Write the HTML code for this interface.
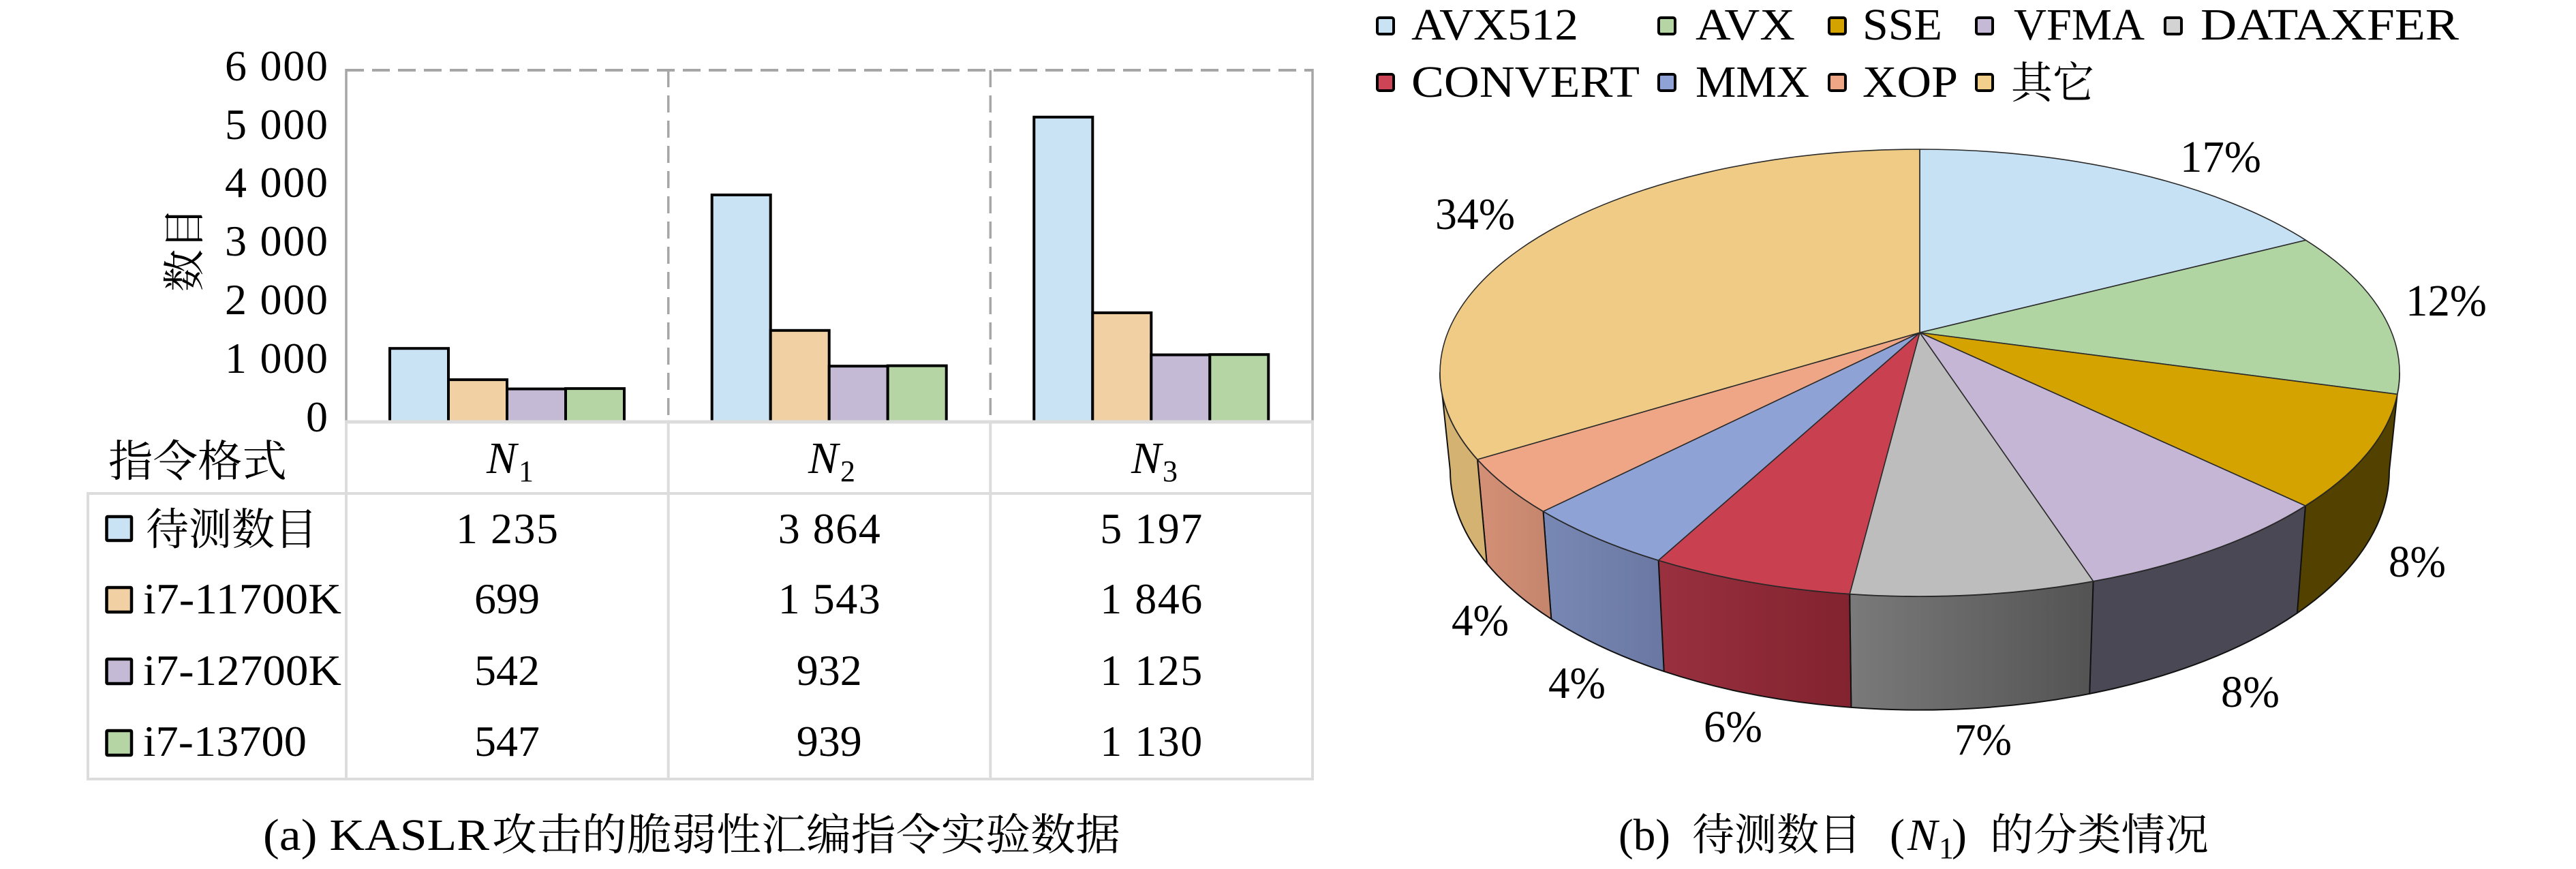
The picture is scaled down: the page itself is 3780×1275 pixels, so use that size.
<!DOCTYPE html>
<html><head><meta charset="utf-8">
<style>
html,body{margin:0;padding:0;background:#fff;}
svg{display:block;}
text{font-family:"Liberation Serif","Noto Serif CJK SC",serif;fill:#000;}
</style></head><body>
<svg xmlns="http://www.w3.org/2000/svg" width="3780" height="1275" viewBox="0 0 3780 1275" font-family="'Liberation Serif','Noto Serif CJK SC',serif">
<defs>
<linearGradient id="gData" x1="0" y1="0" x2="1" y2="0"><stop offset="0" stop-color="#7a7a7a"/><stop offset="1" stop-color="#535353"/></linearGradient>
<linearGradient id="gConv" x1="0" y1="0" x2="1" y2="0"><stop offset="0" stop-color="#99303f"/><stop offset="1" stop-color="#82232f"/></linearGradient>
<linearGradient id="gMmx" x1="0" y1="0" x2="1" y2="0"><stop offset="0" stop-color="#7888b4"/><stop offset="1" stop-color="#6a77a2"/></linearGradient>
<linearGradient id="gXop" x1="0" y1="0" x2="1" y2="0"><stop offset="0" stop-color="#d49077"/><stop offset="1" stop-color="#c4856d"/></linearGradient>
</defs>
<rect width="3780" height="1275" fill="#fff"/>

<!-- ========== LEFT: bar chart ========== -->
<g stroke="#000" stroke-width="4">
<rect x="572" y="511.2" width="86" height="108" fill="#c9e3f5"/>
<rect x="658" y="557.1" width="86" height="62" fill="#f1d1a3"/>
<rect x="744" y="570.6" width="86" height="48.4" fill="#c4bad6"/>
<rect x="830" y="570.1" width="86" height="48.9" fill="#b6d5a4"/>

<rect x="1044.7" y="286" width="86" height="333" fill="#c9e3f5"/>
<rect x="1130.7" y="484.8" width="86" height="134.2" fill="#f1d1a3"/>
<rect x="1216.7" y="537.2" width="86" height="81.8" fill="#c4bad6"/>
<rect x="1302.7" y="536.6" width="86" height="82.4" fill="#b6d5a4"/>

<rect x="1517.3" y="171.8" width="86" height="447.2" fill="#c9e3f5"/>
<rect x="1603.3" y="458.9" width="86" height="160.1" fill="#f1d1a3"/>
<rect x="1689.3" y="520.6" width="86" height="98.4" fill="#c4bad6"/>
<rect x="1775.3" y="520.2" width="86" height="98.8" fill="#b6d5a4"/>
</g>

<line x1="508" y1="101" x2="508" y2="619" stroke="#a6a6a6" stroke-width="3.5"/>
<line x1="1926" y1="101" x2="1926" y2="619" stroke="#a6a6a6" stroke-width="3.5"/>
<line x1="508" y1="103" x2="1926" y2="103" stroke="#a6a6a6" stroke-width="4" stroke-dasharray="26 12"/>
<line x1="980.7" y1="103" x2="980.7" y2="617" stroke="#a6a6a6" stroke-width="3.5" stroke-dasharray="25 12"/>
<line x1="1453.3" y1="103" x2="1453.3" y2="617" stroke="#a6a6a6" stroke-width="3.5" stroke-dasharray="25 12"/>

<g stroke="#dcdcdc" stroke-width="4" fill="none">
<line x1="506" y1="619" x2="1928" y2="619" stroke-width="5"/>
<line x1="508" y1="619" x2="508" y2="1145"/>
<line x1="980.7" y1="619" x2="980.7" y2="1145"/>
<line x1="1453.3" y1="619" x2="1453.3" y2="1145"/>
<line x1="1926" y1="619" x2="1926" y2="1145"/>
<line x1="127" y1="724" x2="1928" y2="724"/>
<line x1="127" y1="1143" x2="1928" y2="1143"/>
<line x1="129" y1="722" x2="129" y2="1145"/>
</g>

<g font-size="64" text-anchor="end">
<text x="481" y="118" textLength="151">6 000</text>
<text x="481" y="204" textLength="151">5 000</text>
<text x="481" y="289" textLength="151">4 000</text>
<text x="481" y="375" textLength="151">3 000</text>
<text x="481" y="461" textLength="151">2 000</text>
<text x="481" y="547" textLength="151">1 000</text>
<text x="481" y="633">0</text>
</g>
<text transform="translate(292,366) rotate(-90)" text-anchor="middle" font-size="62">数目</text>

<text x="159" y="699" font-size="64" textLength="262" lengthAdjust="spacingAndGlyphs">指令格式</text>
<text x="714" y="694" font-size="66" font-style="italic">N</text>
<text x="761" y="706" font-size="44">1</text>
<text x="1186" y="694" font-size="66" font-style="italic">N</text>
<text x="1233" y="706" font-size="44">2</text>
<text x="1660" y="694" font-size="66" font-style="italic">N</text>
<text x="1706" y="706" font-size="44">3</text>

<g stroke="#000" stroke-width="4.5">
<rect x="156.5" y="758" width="36.5" height="35" fill="#c9e3f5" rx="1.5"/>
<rect x="156.5" y="862" width="36.5" height="36" fill="#f1d1a3" rx="1.5"/>
<rect x="156.5" y="967" width="36.5" height="36" fill="#c4bad6" rx="1.5"/>
<rect x="156.5" y="1072" width="36.5" height="36" fill="#b6d5a4" rx="1.5"/>
</g>
<g font-size="64">
<text x="214" y="799" textLength="252" lengthAdjust="spacingAndGlyphs">待测数目</text>
<text x="210" y="900" textLength="291" lengthAdjust="spacingAndGlyphs">i7-11700K</text>
<text x="210" y="1005" textLength="291" lengthAdjust="spacingAndGlyphs">i7-12700K</text>
<text x="210" y="1109" textLength="240" lengthAdjust="spacingAndGlyphs">i7-13700</text>
</g>
<g font-size="64" text-anchor="middle">
<text x="744" y="797" textLength="150">1 235</text>
<text x="744" y="900">699</text>
<text x="744" y="1005">542</text>
<text x="744" y="1109">547</text>
<text x="1216.7" y="797" textLength="150">3 864</text>
<text x="1216.7" y="900" textLength="150">1 543</text>
<text x="1216.7" y="1005">932</text>
<text x="1216.7" y="1109">939</text>
<text x="1689.3" y="797" textLength="150">5 197</text>
<text x="1689.3" y="900" textLength="150">1 846</text>
<text x="1689.3" y="1005" textLength="150">1 125</text>
<text x="1689.3" y="1109" textLength="150">1 130</text>
</g>

<text x="386" y="1247" font-size="66" textLength="332" lengthAdjust="spacingAndGlyphs">(a) KASLR</text>
<text x="722" y="1247" font-size="64" textLength="922" lengthAdjust="spacingAndGlyphs">攻击的脆弱性汇编指令实验数据</text>

<!-- ========== RIGHT: pie chart ========== -->
<g stroke="#000" stroke-width="4">
<rect x="2021" y="26" width="24" height="24" rx="3" fill="#c9e3f5"/>
<rect x="2434" y="26" width="24" height="24" rx="3" fill="#b6d5a4"/>
<rect x="2684" y="26" width="24" height="24" rx="3" fill="#d4a300"/>
<rect x="2900" y="26" width="24" height="24" rx="3" fill="#c4bad6"/>
<rect x="3177" y="26" width="24" height="24" rx="3" fill="#d3d3d3"/>
<rect x="2021" y="109" width="24" height="24" rx="3" fill="#cc4455"/>
<rect x="2434" y="109" width="24" height="24" rx="3" fill="#8fa2d6"/>
<rect x="2684" y="109" width="24" height="24" rx="3" fill="#eea686"/>
<rect x="2900" y="109" width="24" height="24" rx="3" fill="#f2cf8a"/>
</g>
<g font-size="66">
<text x="2071" y="58" textLength="245" lengthAdjust="spacingAndGlyphs">AVX512</text>
<text x="2488" y="58" textLength="146" lengthAdjust="spacingAndGlyphs">AVX</text>
<text x="2733" y="58" textLength="117" lengthAdjust="spacingAndGlyphs">SSE</text>
<text x="2955" y="58" textLength="192" lengthAdjust="spacingAndGlyphs">VFMA</text>
<text x="3229" y="58" textLength="379" lengthAdjust="spacingAndGlyphs">DATAXFER</text>
<text x="2071" y="142" textLength="335" lengthAdjust="spacingAndGlyphs">CONVERT</text>
<text x="2488" y="142" textLength="167" lengthAdjust="spacingAndGlyphs">MMX</text>
<text x="2733" y="142" textLength="140" lengthAdjust="spacingAndGlyphs">XOP</text>
<text x="2951" y="144" font-size="64" textLength="122" lengthAdjust="spacingAndGlyphs">其它</text>
</g>

<g stroke="#111" stroke-width="2" stroke-linejoin="round">
<path d="M3521,547 A704,328 0 0 1 3382.9,742.1 L3370.9,899.5 A689,351 0 0 0 3506,690.7 Z" fill="#534100"/>
<path d="M3382.9,742.1 A704,328 0 0 1 3071.6,852.8 L3066.2,1017.9 A689,351 0 0 0 3370.9,899.5 Z" fill="#4b4855"/>
<path d="M3071.6,852.8 A704,328 0 0 1 2714.2,871.5 L2716.4,1037.9 A689,351 0 0 0 3066.2,1017.9 Z" fill="url(#gData)"/>
<path d="M2714.2,871.5 A704,328 0 0 1 2433.6,822.1 L2441.7,985.1 A689,351 0 0 0 2716.4,1037.9 Z" fill="url(#gConv)"/>
<path d="M2433.6,822.1 A704,328 0 0 1 2264.5,750.3 L2276.3,908.2 A689,351 0 0 0 2441.7,985.1 Z" fill="url(#gMmx)"/>
<path d="M2264.5,750.3 A704,328 0 0 1 2168,674.1 L2181.8,826.7 A689,351 0 0 0 2276.3,908.2 Z" fill="url(#gXop)"/>
<path d="M2168,674.1 A704,328 0 0 1 2113,547 L2128,690.7 A689,351 0 0 0 2181.8,826.7 Z" fill="#d4b272"/>
</g>

<g stroke="#2a2a2a" stroke-width="1.6" stroke-linejoin="round">
<path d="M2817,488 L2817,219 A704,328 0 0 1 3383.6,352.4 Z" fill="#c5e1f3"/>
<path d="M2817,488 L3383.6,352.4 A704,328 0 0 1 3517.8,578.4 Z" fill="#b1d4a3"/>
<path d="M2817,488 L3517.8,578.4 A704,328 0 0 1 3382.9,742.1 Z" fill="#d4a300"/>
<path d="M2817,488 L3382.9,742.1 A704,328 0 0 1 3071.6,852.8 Z" fill="#c4b6d4"/>
<path d="M2817,488 L3071.6,852.8 A704,328 0 0 1 2714.2,871.5 Z" fill="#bdbdbd"/>
<path d="M2817,488 L2714.2,871.5 A704,328 0 0 1 2433.6,822.1 Z" fill="#c94150"/>
<path d="M2817,488 L2433.6,822.1 A704,328 0 0 1 2264.5,750.3 Z" fill="#8fa2d6"/>
<path d="M2817,488 L2264.5,750.3 A704,328 0 0 1 2168,674.1 Z" fill="#eea686"/>
<path d="M2817,488 L2168,674.1 A704,328 0 0 1 2817,219 Z" fill="#efcb86"/>
</g>

<g font-size="66">
<text x="3199" y="252" textLength="119" lengthAdjust="spacingAndGlyphs">17%</text>
<text x="3530" y="463" textLength="119" lengthAdjust="spacingAndGlyphs">12%</text>
<text x="3505" y="846" textLength="84" lengthAdjust="spacingAndGlyphs">8%</text>
<text x="3259" y="1037" textLength="86" lengthAdjust="spacingAndGlyphs">8%</text>
<text x="2868" y="1107" textLength="84" lengthAdjust="spacingAndGlyphs">7%</text>
<text x="2500" y="1088" textLength="86" lengthAdjust="spacingAndGlyphs">6%</text>
<text x="2272" y="1024" textLength="84" lengthAdjust="spacingAndGlyphs">4%</text>
<text x="2130" y="932" textLength="84" lengthAdjust="spacingAndGlyphs">4%</text>
<text x="2106" y="336" textLength="117" lengthAdjust="spacingAndGlyphs">34%</text>
</g>

<text x="2375" y="1247" font-size="66" textLength="76" lengthAdjust="spacingAndGlyphs">(b)</text>
<text x="2483" y="1247" font-size="64" textLength="248" lengthAdjust="spacingAndGlyphs">待测数目</text>
<text x="2795" y="1247" font-size="66" text-anchor="end">(</text>
<text x="2799" y="1247" font-size="66" font-style="italic">N</text>
<text x="2845" y="1259" font-size="44">1</text>
<text x="2864" y="1247" font-size="66">)</text>
<text x="2920" y="1247" font-size="64" textLength="321" lengthAdjust="spacingAndGlyphs">的分类情况</text>
</svg>
</body></html>
